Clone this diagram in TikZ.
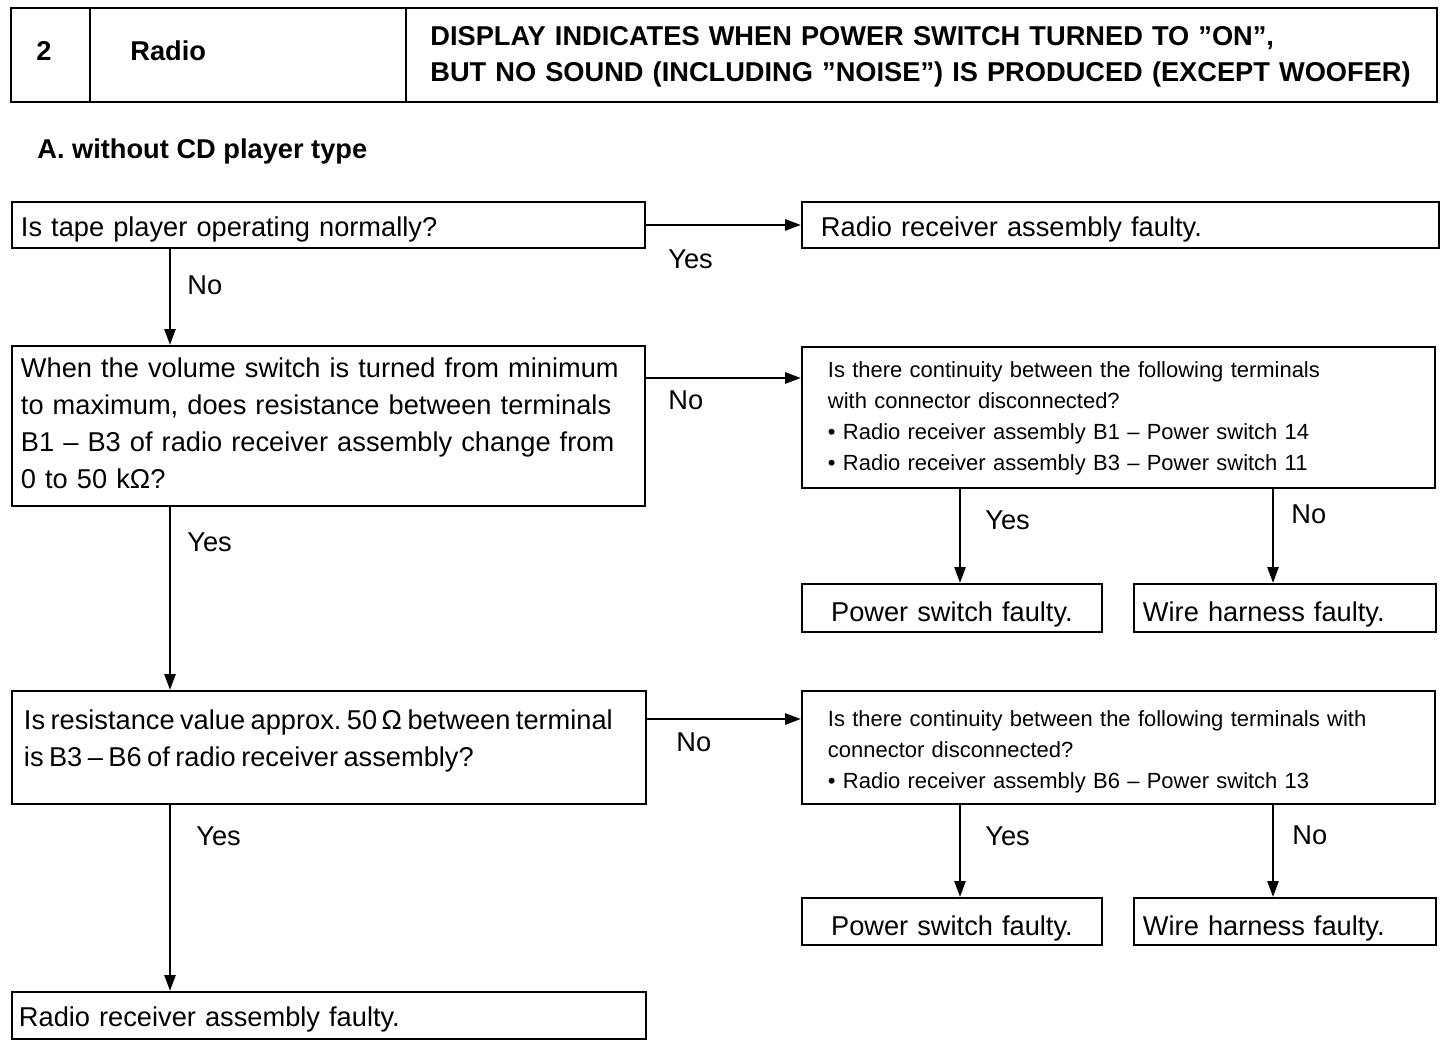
\documentclass[tikz,border=0pt]{standalone}
\usepackage{fontspec}
\setmainfont{Liberation Sans}
\usetikzlibrary{arrows.meta}
\frenchspacing
\newcommand\mainsize{\fontsize{15.5pt}{21pt}\selectfont}
\newcommand\smallsize{\fontsize{12.5pt}{17.6pt}\selectfont}
\begin{document}
\begin{tikzpicture}[
  x=0.02cm, y=-0.02cm,
  box/.style={draw, line width=1.1pt, anchor=north west, inner ysep=0pt, inner xsep=0.18cm, align=left, font=\mainsize},
  small box/.style={box, inner xsep=0.52cm, font=\smallsize},
  flow/.style={draw, -{Triangle[length=0.32cm, width=0.22cm]}, line width=1.5pt},
  answer/.style={anchor=base west, inner sep=0pt, font=\mainsize},
  heading/.style={anchor=base west, inner sep=0pt, font=\mainsize\bfseries}
]
\useasboundingbox (0,0) rectangle (1456,1046);
% Header table
\draw[line width=1.1pt] (11,8) rectangle (1437,102);
\draw[line width=1.1pt] (90,8) -- (90,102) (406,8) -- (406,102);
\node[heading, anchor=base] (num) at (44,60) {2};
\node[heading] (name) at (130,60) {Radio};
\node[heading, text width=20.2cm, align=left] (title) at (430,45) {DISPLAY INDICATES WHEN POWER SWITCH TURNED TO ”ON”,\\ BUT NO SOUND (INCLUDING ”NOISE”) IS PRODUCED (EXCEPT WOOFER)};
\node[heading] (sub) at (37,158) {A. without CD player type};
% Define the boxes
\node[box, text width=12.30cm, text height=0.70cm, text depth=0.22cm] (b1) at (11,201) {Is tape player operating normally?};
\node[box, inner xsep=0.38cm, text width=11.98cm, text height=0.70cm, text depth=0.22cm] (r1) at (801,201) {Radio receiver assembly faulty.};
\node[box, text width=12.30cm, text height=0.64cm, text depth=2.56cm] (b2) at (11,345) {When the volume switch is turned from minimum\\ to maximum, does resistance between terminals\\ B1 – B3 of radio receiver assembly change from\\ 0 to 50 kΩ?};
\node[small box, text width=11.62cm, text height=0.62cm, text depth=2.20cm] (r2) at (801,346) {Is there continuity between the following terminals\\ with connector disconnected?\\ • Radio receiver assembly B1 – Power switch 14\\ • Radio receiver assembly B3 – Power switch 11};
\node[box, align=center, text width=5.64cm, text height=0.76cm, text depth=0.20cm] (ps1) at (801,583) {Power switch faulty.};
\node[box, text width=5.68cm, text height=0.76cm, text depth=0.20cm] (wh1) at (1133,583) {Wire harness faulty.};
\node[box, inner xsep=0.24cm, text width=12.20cm, text height=0.78cm, text depth=1.48cm] (b3) at (11,690) {\spaceskip=0.2em\mbox{Is resistance value approx. 50\,Ω between terminal}\\ is B3 – B6 of radio receiver assembly?};
\node[small box, text width=11.62cm, text height=0.72cm, text depth=1.54cm] (r3) at (801,690) {Is there continuity between the following terminals with\\ connector disconnected?\\ • Radio receiver assembly B6 – Power switch 13};
\node[box, align=center, text width=5.64cm, text height=0.76cm, text depth=0.18cm] (ps2) at (801,897) {Power switch faulty.};
\node[box, text width=5.68cm, text height=0.76cm, text depth=0.18cm] (wh2) at (1133,897) {Wire harness faulty.};
\node[box, inner xsep=0.14cm, text width=12.40cm, text height=0.70cm, text depth=0.24cm] (fin) at (11,991) {Radio receiver assembly faulty.};
% Lanes of the vertical arrows
\coordinate (spine) at (170,0);
\coordinate (lane1) at (960,0);
\coordinate (lane2) at (1273,0);
% Define the edges
\draw[flow] (b1.east) -- (r1.west);
\draw[flow] (b1.south -| spine) -- (b2.north -| spine);
\draw[flow] ([yshift=-0.66cm]b2.north east) -- ([yshift=-0.66cm]b2.north east -| r2.west);
\draw[flow] (r2.south -| lane1) -- (ps1.north -| lane1);
\draw[flow] (r2.south -| lane2) -- (wh1.north -| lane2);
\draw[flow] (b2.south -| spine) -- (b3.north -| spine);
\draw[flow] ([yshift=-0.58cm]b3.north east) -- ([yshift=-0.58cm]b3.north east -| r3.west);
\draw[flow] (r3.south -| lane1) -- (ps2.north -| lane1);
\draw[flow] (r3.south -| lane2) -- (wh2.north -| lane2);
\draw[flow] (b3.south -| spine) -- (fin.north -| spine);
% Answers
\node[answer] (y1) at (668,268) {Yes};
\node[answer] (n1) at (187,294) {No};
\node[answer] (n2) at (668,409) {No};
\node[answer] (y2) at (985,529) {Yes};
\node[answer] (n3) at (1291,523) {No};
\node[answer] (y3) at (187,551) {Yes};
\node[answer] (n4) at (676,751) {No};
\node[answer] (y4) at (985,845) {Yes};
\node[answer] (n5) at (1292,844) {No};
\node[answer] (y5) at (196,845) {Yes};
\end{tikzpicture}
\end{document}
